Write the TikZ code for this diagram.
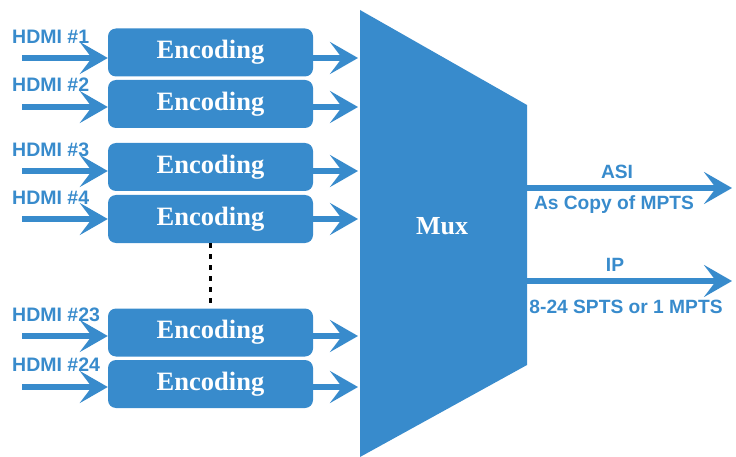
\documentclass[tikz,border=0pt]{standalone}
\usepackage{fontspec}
\setmainfont{Liberation Serif}
\setsansfont{Liberation Sans}
\usetikzlibrary{arrows.meta}

\definecolor{muxblue}{RGB}{56,139,204}

\tikzset{
    encbox/.style = {draw=none, fill=muxblue, rounded corners=8pt, minimum width=205pt, minimum height=48pt,
        text=white, font={\fontsize{26.5}{26.5}\selectfont\bfseries}},
    hdmilabel/.style = {anchor=west, text=muxblue, font={\sffamily\bfseries\fontsize{19.5}{19.5}\selectfont}, inner sep=0pt},
    outlabel/.style = {text=muxblue, font={\sffamily\bfseries\fontsize{19.2}{19.2}\selectfont}, inner sep=0pt},
    fatarrow/.style = {color=muxblue, line width=6.5pt, -{Stealth[length=28pt 0, width=32pt 0, inset=12pt 0]}},
}

\begin{document}
\begin{tikzpicture}[x=1pt, y=-1pt]
            \useasboundingbox (0,0) rectangle (736,457);

            % mux block
            \fill[color=muxblue] (360,10) -- (527,105) -- (527,365) -- (360,457) -- cycle;
            \node[text=white, font={\fontsize{26}{26}\selectfont\bfseries}] (mux) at (442,226) {Mux};
            \coordinate (muxL) at (358,0);
            \coordinate (muxR) at (527,0);

            % encoders
            \node[encbox] (enc1) at (210.5,52.5) {Encoding};
            \node[encbox] (enc2) at (210.5,104) {Encoding};
            \node[encbox] (enc3) at (210.5,167) {Encoding};
            \node[encbox] (enc4) at (210.5,219) {Encoding};
            \node[encbox] (enc23) at (210.5,332.5) {Encoding};
            \node[encbox] (enc24) at (210.5,384) {Encoding};

            % inputs
            \node[hdmilabel] (hdmi1) at (12,37) {HDMI \#1};
            \node[hdmilabel] (hdmi2) at (12,85) {HDMI \#2};
            \node[hdmilabel] (hdmi3) at (12,150) {HDMI \#3};
            \node[hdmilabel] (hdmi4) at (12,198) {HDMI \#4};
            \node[hdmilabel] (hdmi23) at (12,315) {HDMI \#23};
            \node[hdmilabel] (hdmi24) at (12,365) {HDMI \#24};

            \coordinate (in1) at (22,58);
            \coordinate (in2) at (22,107);
            \coordinate (in3) at (22,171);
            \coordinate (in4) at (22,219);
            \coordinate (in23) at (22,336);
            \coordinate (in24) at (22,387);

            \draw[fatarrow] (in1) -- (in1 -| enc1.west);
            \draw[fatarrow] (in2) -- (in2 -| enc2.west);
            \draw[fatarrow] (in3) -- (in3 -| enc3.west);
            \draw[fatarrow] (in4) -- (in4 -| enc4.west);
            \draw[fatarrow] (in23) -- (in23 -| enc23.west);
            \draw[fatarrow] (in24) -- (in24 -| enc24.west);

            % encoder to mux
            \draw[fatarrow] ([xshift=-3pt]in1 -| enc1.east) -- (in1 -| muxL);
            \draw[fatarrow] ([xshift=-3pt]in2 -| enc2.east) -- (in2 -| muxL);
            \draw[fatarrow] ([xshift=-3pt]in3 -| enc3.east) -- (in3 -| muxL);
            \draw[fatarrow] ([xshift=-3pt]in4 -| enc4.east) -- (in4 -| muxL);
            \draw[fatarrow] ([xshift=-3pt]in23 -| enc23.east) -- (in23 -| muxL);
            \draw[fatarrow] ([xshift=-3pt]in24 -| enc24.east) -- (in24 -| muxL);

            % dots between 4 and 23
            \draw[color=black, line width=3pt, dash pattern=on 5pt off 6pt] (enc4.south) -- (enc23.north);

            % outputs
            \coordinate (asi) at (732,188);
            \coordinate (ip) at (732,281);
            \draw[fatarrow] (asi -| muxR) -- (asi);
            \draw[fatarrow] (ip -| muxR) -- (ip);

            \node[outlabel] (asitop) at (617,172) {ASI};
            \node[outlabel] (asibot) at (614,205) {As Copy of MPTS};
            \node[outlabel] (iptop) at (615,265) {IP};
            \node[outlabel] (ipbot) at (626,307) {8-24 SPTS or 1 MPTS};
        \end{tikzpicture}
\end{document}
